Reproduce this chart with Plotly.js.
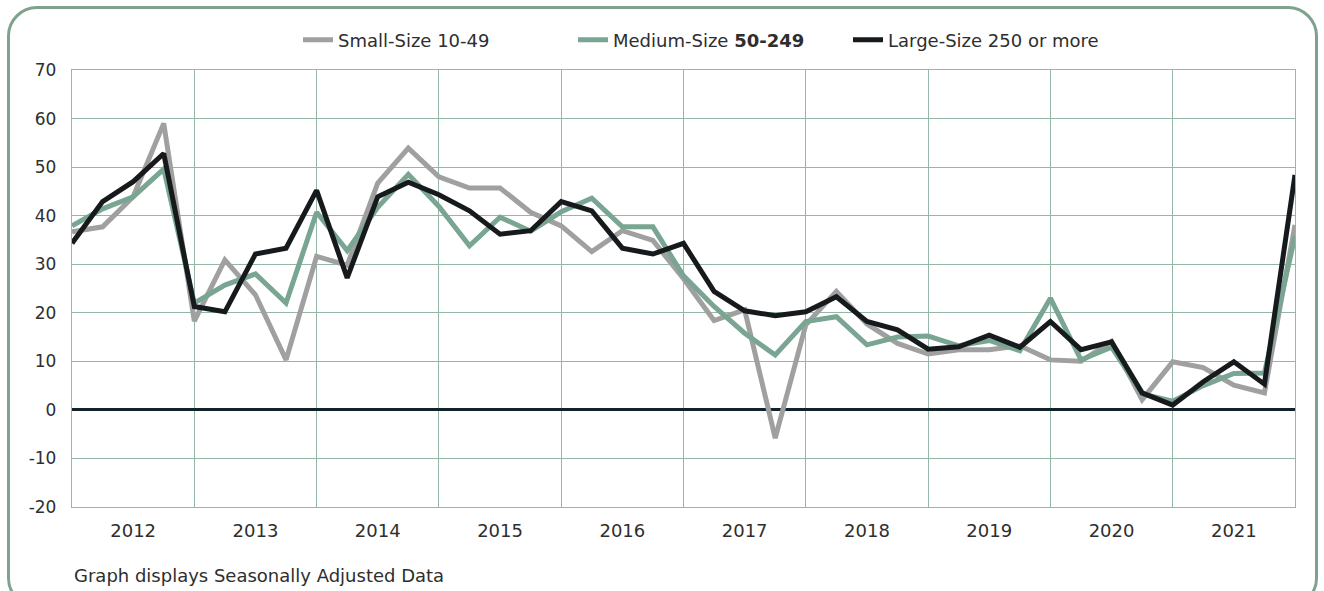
<!DOCTYPE html>
<html>
<head>
<meta charset="utf-8">
<script src="https://cdn.plot.ly/plotly-3.0.1.min.js"></script>
<style>
  html, body { margin: 0; padding: 0; background: #ffffff; }
  #wrap { position: relative; width: 1324px; height: 591px; overflow: hidden; }
  #frame { position: absolute; left: 7px; top: 6px; width: 1311px; height: 602px;
           border: 3px solid #7fa28f; border-radius: 30px; box-sizing: border-box; }
  #chart { position: absolute; left: 0; top: 0; width: 1324px; height: 591px; }
</style>
</head>
<body>
<div id="wrap">
  <div id="frame"></div>
  <div id="chart"></div>
</div>
<script>
// Quarter positions (0 = start of 2012, 40 = end of 2021)
const quarters = Array.from({length: 41}, (_, i) => i);

const yearLabels = ["2012","2013","2014","2015","2016","2017","2018","2019","2020","2021"];
const yearCentres = [2, 6, 10, 14, 18, 22, 26, 30, 34, 38];

const yTickValues = [-20, -10, 0, 10, 20, 30, 40, 50, 60, 70];
const yTickLabels = ["-20", "-10", "0", "10", "20", "30", "40", "50", "60", "70"];

const smallSize = [36.7, 37.7, 43.9, 59.0, 18.3, 30.9, 23.7, 10.3, 31.6, 29.8,
                   46.7, 53.9, 48.0, 45.7, 45.7, 40.7, 37.9, 32.6, 36.9, 34.9,
                   27.0, 18.4, 20.6, -5.8, 17.5, 24.4, 17.7, 13.7, 11.5, 12.4,
                   12.4, 13.2, 10.3, 10.0, 14.1, 2.1, 9.9, 8.7, 5.1, 3.5, 38.1];

const mediumSize = [37.9, 41.4, 43.9, 49.6, 22.0, 25.7, 28.0, 22.0, 40.7, 32.8,
                    41.7, 48.5, 41.9, 33.8, 39.7, 36.8, 40.8, 43.6, 37.7, 37.7,
                    27.6, 21.3, 15.8, 11.3, 18.2, 19.2, 13.4, 15.0, 15.2, 13.2,
                    14.3, 12.2, 23.0, 10.3, 12.9, 3.3, 1.8, 5.0, 7.5, 7.6, 35.8];

const largeSize = [34.3, 42.9, 47.0, 52.8, 21.3, 20.2, 32.1, 33.3, 45.2, 27.2,
                   43.9, 46.9, 44.3, 41.0, 36.2, 36.9, 42.9, 41.0, 33.3, 32.1,
                   34.3, 24.4, 20.4, 19.4, 20.2, 23.3, 18.2, 16.5, 12.5, 13.0,
                   15.4, 12.9, 18.2, 12.4, 14.0, 3.5, 1.0, 5.8, 9.9, 5.3, 48.4];

const seriesNames = ["Small-Size 10-49", "Medium-Size <b>50-249</b>", "Large-Size 250 or more"];
const seriesColors = ["#a0a0a0", "#79a592", "#161a1c"];

const gridColor = "#94b7a6";
const textColor = "#2e2e2e";
const fontFamily = "DejaVu Sans, Arial, sans-serif";

const traces = [smallSize, mediumSize, largeSize].map((vals, k) => ({
  type: "scatter",
  mode: "lines",
  x: quarters,
  y: vals,
  name: seriesNames[k],
  line: { color: seriesColors[k], width: 5, shape: "linear" },
  hoverinfo: "x+y+name"
}));

const layout = {
  width: 1324,
  height: 591,
  paper_bgcolor: "rgba(0,0,0,0)",
  plot_bgcolor: "rgba(0,0,0,0)",
  margin: { l: 72, r: 29, t: 70, b: 84 },
  font: { family: fontFamily, color: textColor },
  showlegend: true,
  legend: {
    orientation: "h",
    xref: "container",
    yref: "container",
    x: 298 / 1324,
    xanchor: "left",
    y: 1 - 40 / 591,
    yanchor: "middle",
    font: { family: fontFamily, size: 18, color: textColor },
    entrywidth: 230,
    entrywidthmode: "pixels",
    bgcolor: "rgba(0,0,0,0)",
    traceorder: "normal"
  },
  xaxis: {
    range: [0, 40],
    tickmode: "array",
    tickvals: yearCentres,
    ticktext: yearLabels,
    showgrid: false,
    ticks: "outside",
    ticklen: 7,
    tickcolor: "rgba(0,0,0,0)",
    tickfont: { family: fontFamily, size: 18, color: textColor },
    minor: { tick0: 0, dtick: 4, showgrid: true, gridcolor: gridColor, gridwidth: 1.3, ticks: "" },
    showline: true,
    mirror: true,
    linecolor: gridColor,
    linewidth: 1.3,
    zeroline: false,
    fixedrange: true
  },
  yaxis: {
    range: [-20, 70],
    tickmode: "array",
    tickvals: yTickValues,
    ticktext: yTickLabels,
    showgrid: true,
    gridcolor: gridColor,
    gridwidth: 1.3,
    zeroline: true,
    zerolinecolor: "#13222a",
    zerolinewidth: 2.5,
    ticks: "outside",
    ticklen: 11,
    tickcolor: "rgba(0,0,0,0)",
    tickfont: { family: fontFamily, size: 17, color: textColor },
    showline: true,
    mirror: true,
    linecolor: gridColor,
    linewidth: 1.3,
    fixedrange: true
  },
  annotations: [{
    text: "Graph displays Seasonally Adjusted Data",
    xref: "paper",
    yref: "paper",
    x: 0,
    xanchor: "left",
    y: (507 - 575) / 437,
    yanchor: "middle",
    showarrow: false,
    font: { family: fontFamily, size: 18, color: textColor }
  }]
};

Plotly.newPlot("chart", traces, layout, { displayModeBar: false });
</script>
</body>
</html>
